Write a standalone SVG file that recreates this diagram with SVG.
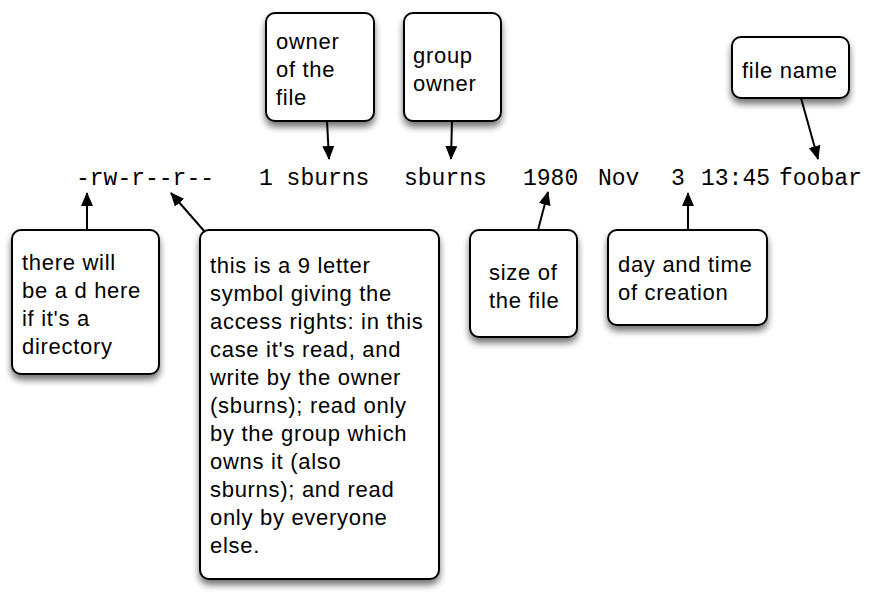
<svg xmlns="http://www.w3.org/2000/svg" width="870" height="600" viewBox="0 0 870 600">
<defs>
<filter id="sh" x="-20%" y="-20%" width="140%" height="150%">
<feGaussianBlur in="SourceAlpha" stdDeviation="3.5"/>
<feOffset dx="0" dy="5" result="b"/>
<feComponentTransfer><feFuncA type="linear" slope="0.55"/></feComponentTransfer>
<feMerge><feMergeNode/><feMergeNode in="SourceGraphic"/></feMerge>
</filter>
<marker id="ah" markerUnits="userSpaceOnUse" markerWidth="14" markerHeight="14" viewBox="0 0 14 12" refX="13" refY="6" orient="auto">
<path d="M0,0 L14,6 L0,12 Z" fill="#000"/>
</marker>
</defs>
<style>
.box{fill:#fff;stroke:#000;stroke-width:2;filter:url(#sh)}
.lbl{font-family:"Liberation Sans",Arial,sans-serif;font-size:22px;letter-spacing:0.7px;fill:#000}
.mono{font-family:"Liberation Mono","Courier New",monospace;font-size:23px;fill:#000}
.con{stroke:#000;stroke-width:2;fill:none;marker-end:url(#ah)}
</style>
<rect width="870" height="600" fill="#fff"/>

<g id="listing">
<text class="mono" x="76" y="185">-rw-r--r--</text>
<text class="mono" x="259" y="185">1 sburns</text>
<text class="mono" x="404" y="185">sburns</text>
<text class="mono" x="523" y="185">1980</text>
<text class="mono" x="598" y="185">Nov</text>
<text class="mono" x="671" y="185">3</text>
<text class="mono" x="701" y="185">13:45</text>
<text class="mono" x="779" y="185">foobar</text>
</g>

<g id="owner">
<rect class="box" x="266" y="13" width="108" height="108" rx="9"/>
<text class="lbl" x="276" y="49">owner</text>
<text class="lbl" x="276" y="77">of the</text>
<text class="lbl" x="276" y="105">file</text>
</g>

<g id="group-owner">
<rect class="box" x="404" y="13" width="97" height="108" rx="9"/>
<text class="lbl" x="413" y="63">group</text>
<text class="lbl" x="413" y="91">owner</text>
</g>

<g id="file-name">
<rect class="box" x="732" y="37" width="117" height="61" rx="9"/>
<text class="lbl" x="742" y="78">file name</text>
</g>

<g id="directory">
<rect class="box" x="12" y="230" width="147" height="144" rx="9"/>
<text class="lbl" x="22" y="270">there will</text>
<text class="lbl" x="22" y="298">be a d here</text>
<text class="lbl" x="22" y="326">if it's a</text>
<text class="lbl" x="22" y="354">directory</text>
</g>

<g id="access-rights">
<rect class="box" x="200" y="230" width="239" height="349" rx="9"/>
<text class="lbl" x="210" y="273">this is a 9 letter</text>
<text class="lbl" x="210" y="301">symbol giving the</text>
<text class="lbl" x="210" y="329">access rights: in this</text>
<text class="lbl" x="210" y="357">case it's read, and</text>
<text class="lbl" x="210" y="385">write by the owner</text>
<text class="lbl" x="210" y="413">(sburns); read only</text>
<text class="lbl" x="210" y="441">by the group which</text>
<text class="lbl" x="210" y="469">owns it (also</text>
<text class="lbl" x="210" y="497">sburns); and read</text>
<text class="lbl" x="210" y="525">only by everyone</text>
<text class="lbl" x="210" y="553">else.</text>
</g>

<g id="size">
<rect class="box" x="470" y="230" width="107" height="107" rx="9"/>
<text class="lbl" x="489" y="280">size of</text>
<text class="lbl" x="489" y="308">the file</text>
</g>

<g id="day-time">
<rect class="box" x="608" y="230" width="159" height="95" rx="9"/>
<text class="lbl" x="618" y="272">day and time</text>
<text class="lbl" x="618" y="300">of creation</text>
</g>

<g id="connectors">
<line class="con" x1="327" y1="121" x2="329" y2="159"/>
<line class="con" x1="452" y1="121" x2="451" y2="159"/>
<line class="con" x1="801" y1="98" x2="818" y2="159"/>
<line class="con" x1="87" y1="230" x2="87" y2="193"/>
<line class="con" x1="205" y1="232" x2="171" y2="193"/>
<line class="con" x1="538" y1="230" x2="548" y2="192"/>
<line class="con" x1="688" y1="230" x2="688" y2="193"/>
</g>
</svg>
